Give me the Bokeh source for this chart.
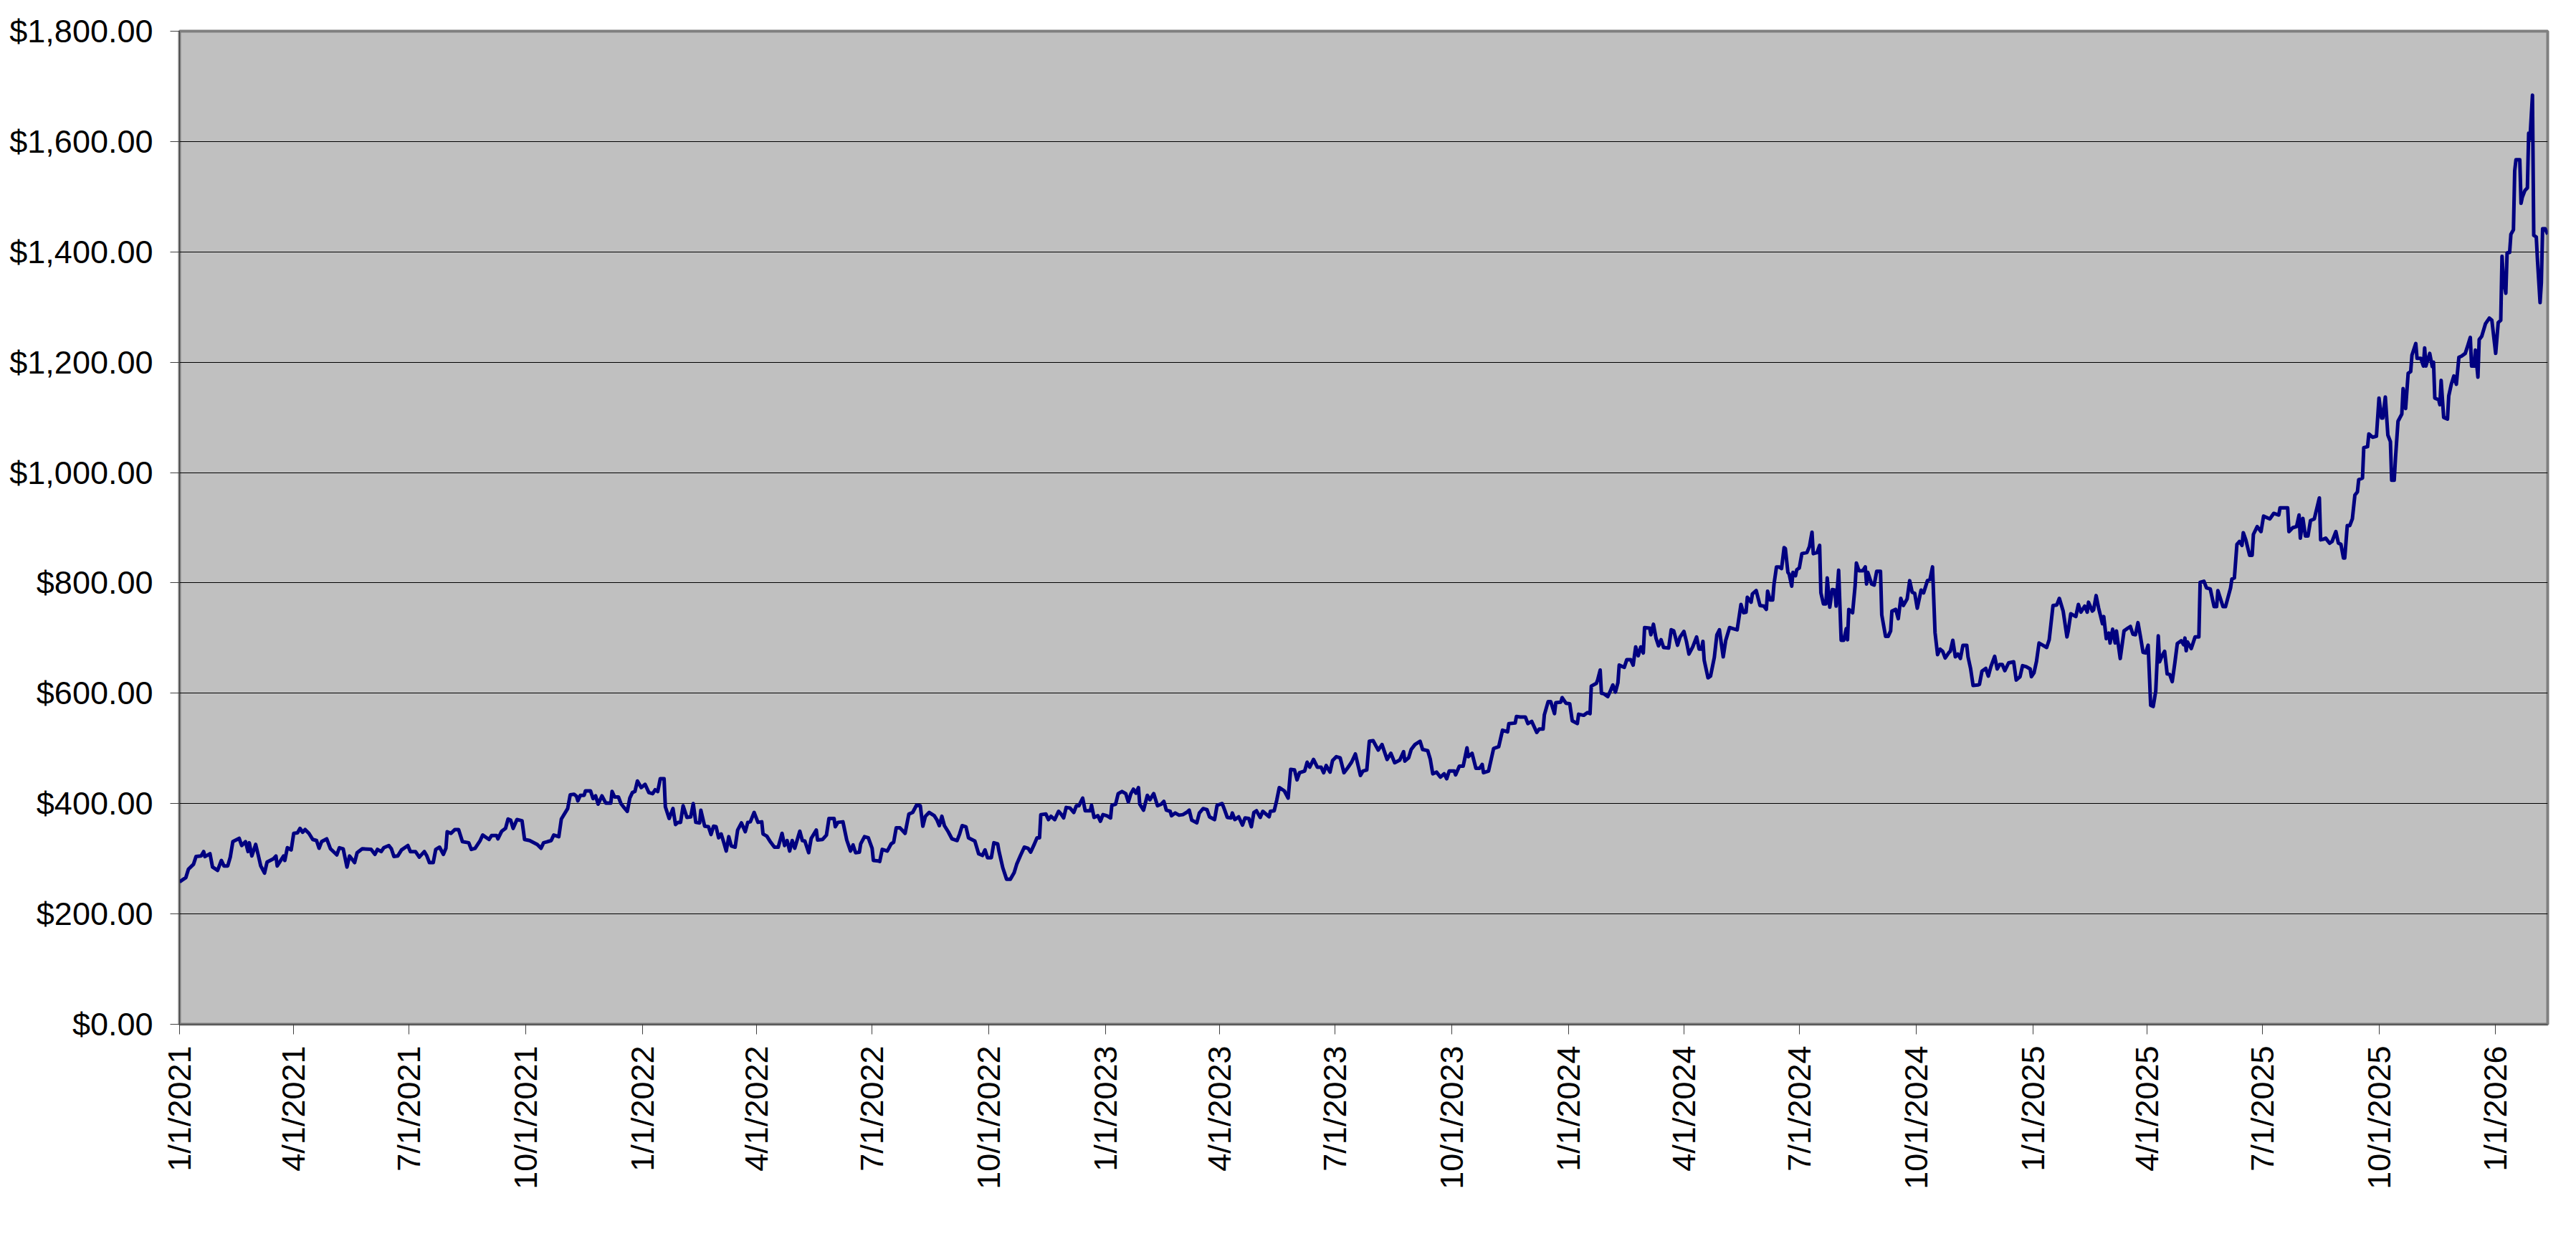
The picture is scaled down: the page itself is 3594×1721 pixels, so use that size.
import math
from datetime import datetime, timedelta

from bokeh.plotting import figure
from bokeh.models import Range1d, FixedTicker, NumeralTickFormatter
from bokeh.embed import file_html
from bokeh.resources import INLINE

# ---------------- data ----------------
START = datetime(2021, 1, 1)

# days after 1/1/2021 and the price read at that day
day_offset = [
    0, 5, 7, 11, 13, 17, 19, 20, 24, 26, 30, 33, 35, 38, 40, 42, 47, 49, 52, 54, 55, 57, 60, 62, 64, 67, 69, 74, 76, 77,
    82, 83, 85, 88, 90, 93, 95, 97, 99, 102, 105, 108, 110, 112, 116, 119, 124, 126, 129, 132, 134, 138, 140, 144,
    151, 154, 156, 159, 161, 165, 167, 169, 172, 175, 180, 182, 186, 189, 193, 195, 197, 200, 202, 205, 208, 210,
    211, 214, 217, 220, 223, 228, 230, 233, 237, 239, 244, 246, 250, 251, 254, 257, 259, 261, 263, 266, 270, 272,
    276, 282, 285, 287, 293, 295, 299, 301, 306, 308, 311, 313,
    314, 316, 319, 320, 324, 326, 328, 330, 333, 336, 340, 341, 343, 346, 348, 350, 353, 355, 357, 359, 361, 364,
    367, 370, 373, 375, 377, 379, 382, 383, 386, 389, 391, 393, 395, 397, 400, 403, 405, 407, 410, 411, 414, 417,
    419, 421, 423, 425, 427, 429, 431, 433, 435, 438, 440, 443, 446, 448, 450, 453, 456, 459, 460, 463, 466, 469,
    472, 475, 477, 479, 481, 483, 485, 489, 491, 493, 496, 498, 502, 503, 507, 510, 512, 516, 517, 519, 523, 526,
    529, 531, 533, 536, 537, 540, 543, 546, 547, 551, 552, 554, 558, 561, 563, 565, 568, 572, 575, 578, 581, 584,
    586, 588, 591, 595, 597, 599, 601, 603, 606, 609, 613, 615, 617, 620, 622, 627,
    630, 633, 635, 637, 640, 642, 645, 646, 649, 652, 655, 658, 660, 663, 666, 669, 671, 674, 676, 678, 679, 683,
    685, 687, 690, 693, 695, 697, 699, 702, 705, 707, 709, 712, 714, 718, 719, 721, 724, 726, 728, 731, 734, 735,
    738, 740, 743, 746, 748, 750, 752, 754, 756, 757, 760, 763, 765, 768, 771, 774, 776, 778, 781, 782, 785, 788,
    791, 794, 796, 798, 802, 804, 807, 810, 812, 816, 818, 822, 824, 826, 829, 830, 832, 835, 838, 840, 843, 845,
    847, 849, 852, 854, 859, 860, 863, 865, 867, 871, 874, 876, 879, 881, 883, 887, 889, 891, 894, 897, 900, 902,
    904, 907, 909, 912, 915, 918, 921, 924, 927, 931, 933, 936, 938, 941,
    945, 948, 952, 955, 958, 962, 965, 966, 969, 971, 974, 978, 980, 984, 986, 988, 991, 994, 997, 999, 1001, 1005,
    1006, 1009, 1012, 1015, 1016, 1019, 1022, 1025, 1027, 1028, 1032, 1036, 1040, 1043, 1047, 1048, 1053, 1054,
    1057, 1061, 1063, 1066, 1070, 1072, 1075, 1076, 1079, 1081, 1084, 1085, 1089, 1090, 1093, 1096, 1098, 1102,
    1103, 1107, 1110, 1112, 1113, 1117, 1118, 1120, 1121, 1123, 1126, 1128, 1130, 1132, 1134, 1135, 1139, 1141,
    1144, 1146, 1148, 1150, 1152, 1154, 1155, 1159, 1160, 1162, 1164, 1166, 1168, 1170, 1174, 1176, 1178, 1181,
    1183, 1186, 1188, 1190, 1193, 1196, 1198, 1200, 1201, 1202, 1205, 1207, 1210, 1212, 1214, 1217, 1219, 1222,
    1225, 1228, 1231, 1233, 1235, 1236, 1239, 1240, 1243, 1246, 1249,
    1251, 1252, 1254, 1256, 1257, 1259, 1261, 1263, 1265, 1266, 1268, 1269, 1271, 1272, 1274, 1275, 1277, 1279,
    1283, 1285, 1287, 1288, 1291, 1293, 1294, 1296, 1298, 1299, 1301, 1303, 1305, 1306, 1308, 1310, 1312, 1314,
    1315, 1316, 1319, 1321, 1322, 1324, 1327, 1329, 1330, 1331, 1334, 1336, 1338, 1341, 1342, 1345, 1347, 1349,
    1350, 1353, 1355, 1357, 1359, 1362, 1364, 1366, 1368, 1370, 1373, 1375, 1378, 1380, 1382, 1384, 1386, 1388,
    1390, 1392, 1395, 1396, 1398, 1400, 1402, 1404, 1406, 1409, 1410, 1412, 1414, 1418, 1419, 1421, 1424, 1426,
    1428, 1431, 1433, 1435, 1437, 1439, 1442, 1446, 1448, 1451, 1453, 1456, 1459, 1460, 1462, 1464, 1466, 1469,
    1472, 1474, 1477, 1480, 1482, 1485, 1488, 1489, 1491, 1495, 1497, 1499, 1502, 1504, 1505, 1508, 1509, 1511,
    1513, 1516, 1517, 1519, 1521, 1522, 1524, 1526, 1527, 1530, 1533, 1536, 1538, 1540, 1542, 1544, 1546, 1548,
    1550, 1552, 1554, 1556, 1558, 1560, 1561, 1563, 1565, 1567,
    1569, 1571, 1573, 1575, 1578, 1580, 1581, 1582, 1583, 1586, 1589, 1592, 1593, 1596, 1598, 1601, 1604, 1606,
    1607, 1611, 1613, 1617, 1618, 1620, 1622, 1624, 1626, 1627, 1629, 1632, 1634, 1635, 1638, 1641, 1643, 1648,
    1651, 1655, 1656, 1660, 1662, 1663, 1666, 1669, 1671, 1672, 1674, 1676, 1678, 1680, 1683, 1687, 1688, 1690,
    1692, 1695, 1697, 1700, 1702, 1704, 1706, 1707, 1709, 1711, 1713, 1715, 1717, 1718, 1721, 1722, 1725, 1726,
    1729, 1732, 1734, 1736, 1737, 1739, 1741, 1743, 1744, 1746, 1747, 1749, 1752, 1753, 1755, 1757, 1759, 1760,
    1763, 1764, 1767, 1769, 1770, 1771, 1774, 1776, 1777, 1778, 1781, 1782, 1783, 1785, 1788, 1789, 1791, 1793,
    1795, 1797, 1799, 1802, 1804, 1806, 1807, 1809, 1810, 1812, 1813, 1815, 1818, 1821, 1823, 1826, 1828, 1830,
    1831, 1832, 1834, 1835, 1837, 1838, 1840, 1841, 1842, 1845, 1846, 1847, 1849, 1851, 1852, 1853, 1855, 1856,
    1858, 1859, 1861, 1862, 1863, 1865, 1867,
]

price = [
    258, 266, 281, 290, 304, 305, 313, 304, 309, 285, 279, 297, 287, 287, 303, 331, 337, 324, 331, 313, 329, 305, 326, 307, 287, 274, 294, 300, 305, 287,
    305, 297, 320, 316, 346, 347, 355, 348, 353, 346, 335, 333, 319, 331, 336, 318, 307, 320, 318, 285, 305, 293, 311, 318,
    317, 308, 317, 313, 320, 324, 318, 304, 305, 316, 324, 313, 313, 303, 313, 305, 293, 293, 317, 321, 308, 319,
    349, 346, 353, 353, 331, 329, 317, 319, 333, 343, 335, 342, 342, 336, 350, 355, 372, 370, 355, 371, 369, 335,
    333, 326, 319, 329, 333, 343, 340, 372, 391, 416, 417, 413,
    405, 415, 415, 423, 423, 409, 414, 399, 414, 401, 401, 422, 412, 412, 400, 394, 386, 410, 420, 422, 441, 429,
    435, 420, 418, 425, 422, 445, 445, 394, 373, 391, 362, 366, 366, 396, 375, 376, 400, 366, 365, 388, 359, 358,
    344, 359, 358, 338, 345, 330, 314, 340, 323, 321, 352, 365, 349, 366, 367, 384, 366, 367, 345, 341, 330, 321,
    321, 346, 324, 333, 314, 333, 319, 350, 333, 332, 311, 337, 352, 334, 335, 343, 373, 373, 358, 366, 367, 334,
    314, 325, 311, 312, 327, 340, 338, 319, 297, 296, 295, 317, 314, 327, 330, 356, 356, 346, 381, 384, 397, 396,
    359, 377, 384, 378, 371, 360, 377, 360, 349, 336, 333, 345, 360, 358, 338, 332,
    309, 306, 316, 302, 302, 329, 327, 314, 284, 263, 263, 275, 290, 306, 321, 319, 312, 327, 338, 338, 380, 381,
    371, 377, 371, 386, 381, 374, 393, 392, 384, 396, 396, 410, 387, 387, 397, 375, 378, 368, 380, 378, 374, 397,
    399, 418, 422, 418, 403, 418, 426, 419, 429, 399, 388, 415, 407, 418, 396, 399, 404, 388, 386, 378, 383, 379,
    380, 384, 388, 370, 365, 383, 391, 389, 376, 371, 397, 400, 388, 375, 374, 383, 371, 376, 361, 374, 373, 358,
    384, 387, 375, 386, 376, 386, 387, 406, 429, 423, 410, 462, 461, 443, 456, 459, 475, 466, 480, 466, 466, 456,
    469, 457, 478, 485, 483, 456, 465, 475, 490, 451, 459, 461, 513, 514,
    497, 507, 480, 491, 474, 479, 494, 477, 483, 498, 507, 513, 498, 496, 481, 454, 457, 448, 454, 445, 459, 459,
    452, 468, 468, 501, 485, 491, 464, 464, 471, 456, 459, 500, 503, 533, 530, 545, 546, 558,
    557, 557, 545, 549, 529, 535, 535, 561, 585, 585, 563, 583, 584, 592, 582, 581, 550, 545,
    562, 560, 565, 563, 613, 618, 624, 642, 600, 599, 594, 604, 615, 602, 619, 651, 647, 661,
    661, 651, 684, 668, 684, 673, 719, 718, 706, 725, 700, 686, 697, 683, 682, 715, 713, 687,
    702, 712, 694, 671, 684, 702, 680, 680, 694, 660, 628, 631, 665, 706, 715, 666, 696, 719,
    717, 715, 761, 746, 747, 774, 765, 780, 786, 759, 758,
    752, 785, 769, 769, 797, 829, 829, 826, 864, 862, 819, 816, 794, 819, 813, 824, 827, 853,
    855, 866, 892, 853, 855, 868, 782, 762, 762, 809, 756, 788, 787, 758, 823, 696, 696, 717,
    697, 752, 746, 795, 836, 822, 822, 829, 798, 819, 798, 796, 821, 821, 742, 703, 703, 713,
    749, 752, 735, 772, 759, 771, 804, 783, 781, 754, 787, 782, 804, 806, 829, 710, 670, 680,
    676, 664, 674, 676, 696, 666, 671, 663, 687, 687, 666, 645, 614, 615, 616, 640, 645, 631,
    648, 667, 644, 652, 652, 641, 655, 657, 624, 630, 650, 648, 644, 630, 637, 658, 691, 687,
    683, 697, 759, 760, 772, 749, 702, 713, 744, 739, 761, 747, 758, 747, 765, 749, 751, 777,
    754, 726, 739, 699, 709, 691, 716, 691, 713, 663, 713, 718, 721, 707, 706, 728, 702, 674,
    673, 687, 578, 576, 604, 704, 657, 668, 676, 635,
    634, 621, 654, 690, 695, 688, 700, 677, 693, 681, 702, 702, 801, 803, 791, 789, 757, 757,
    786, 757, 757, 791, 807, 809, 870, 875, 868, 891, 878, 850, 850, 888, 902, 893, 921, 916,
    926, 923, 936, 936, 936, 893, 900, 902, 923, 881, 917, 885, 885, 913, 916, 954, 878, 879,
    881, 872, 875, 893, 872, 870, 845, 845, 904, 904, 916, 959, 965, 987, 990, 1045, 1047, 1070,
    1064, 1066, 1135, 1099, 1099, 1137, 1068, 1056, 986, 986, 1026, 1093, 1106, 1152, 1116, 1180, 1183, 1213,
    1234, 1207, 1207, 1193, 1226, 1193, 1216, 1192, 1200, 1135, 1132, 1123, 1167, 1100, 1097, 1139, 1160, 1175,
    1160, 1209, 1211, 1216, 1230, 1245, 1193, 1193, 1222, 1173, 1241, 1247, 1270, 1280, 1276, 1216, 1272, 1276,
    1392, 1352, 1325, 1398, 1399, 1432, 1440, 1547, 1567, 1567, 1488, 1499, 1511, 1516, 1615, 1604, 1684, 1430,
    1427, 1383, 1308, 1344, 1442, 1442, 1432,
]

tick_dates = [
    "2021-01-01", "2021-04-01", "2021-07-01", "2021-10-01",
    "2022-01-01", "2022-04-01", "2022-07-01", "2022-10-01",
    "2023-01-01", "2023-04-01", "2023-07-01", "2023-10-01",
    "2024-01-01", "2024-04-01", "2024-07-01", "2024-10-01",
    "2025-01-01", "2025-04-01", "2025-07-01", "2025-10-01",
    "2026-01-01",
]
tick_labels = [
    "1/1/2021", "4/1/2021", "7/1/2021", "10/1/2021",
    "1/1/2022", "4/1/2022", "7/1/2022", "10/1/2022",
    "1/1/2023", "4/1/2023", "7/1/2023", "10/1/2023",
    "1/1/2024", "4/1/2024", "7/1/2024", "10/1/2024",
    "1/1/2025", "4/1/2025", "7/1/2025", "10/1/2025",
    "1/1/2026",
]
y_ticks = [0, 200, 400, 600, 800, 1000, 1200, 1400, 1600, 1800]

# ---------------- build ----------------
assert len(day_offset) == len(price)
dates = [START + timedelta(days=d) for d in day_offset]

EPOCH = datetime(1970, 1, 1)
def to_ms(dt):
    return (dt - EPOCH).total_seconds() * 1000.0

tick_ms = [to_ms(datetime.strptime(s, "%Y-%m-%d")) for s in tick_dates]

FONT = "Liberation Sans"

p = figure(
    width=3590, height=1717,
    x_axis_type="datetime",
    x_range=Range1d(to_ms(dates[0]), to_ms(dates[-1])),
    y_range=Range1d(0, 1800),
    output_backend="svg", toolbar_location=None,
    min_border_left=250, min_border_right=36,
    min_border_top=43, min_border_bottom=289,
)

p.background_fill_color = "#C0C0C0"
p.border_fill_color = "white"
p.outline_line_color = "#808080"
p.outline_line_width = 4

p.line(dates, price, line_color="#000080", line_width=5, line_join="round")

# grid
p.xgrid.visible = False
p.ygrid.ticker = FixedTicker(ticks=y_ticks)
p.ygrid.grid_line_color = "#000000"
p.ygrid.grid_line_width = 1

# y axis
ya = p.yaxis[0]
ya.ticker = FixedTicker(ticks=y_ticks)
ya.formatter = NumeralTickFormatter(format="$0,0.00")
ya.major_label_text_font = FONT
ya.major_label_text_font_size = "45px"
ya.major_label_text_color = "#000000"
ya.major_label_standoff = 24
ya.major_tick_out = 13
ya.major_tick_in = 0
ya.major_tick_line_color = "#404040"
ya.minor_tick_line_color = None
ya.axis_line_color = "#404040"

# x axis
xa = p.xaxis[0]
xa.ticker = FixedTicker(ticks=tick_ms)
xa.major_label_overrides = {ms: lab for ms, lab in zip(tick_ms, tick_labels)}
xa.major_label_orientation = math.pi / 2
xa.major_label_text_font = FONT
xa.major_label_text_font_size = "45px"
xa.major_label_text_color = "#000000"
xa.major_label_standoff = 16
xa.major_tick_out = 14
xa.major_tick_in = 0
xa.major_tick_line_color = "#404040"
xa.minor_tick_line_color = None
xa.axis_line_color = "#404040"

open("out.html", "w").write(file_html(p, INLINE))
